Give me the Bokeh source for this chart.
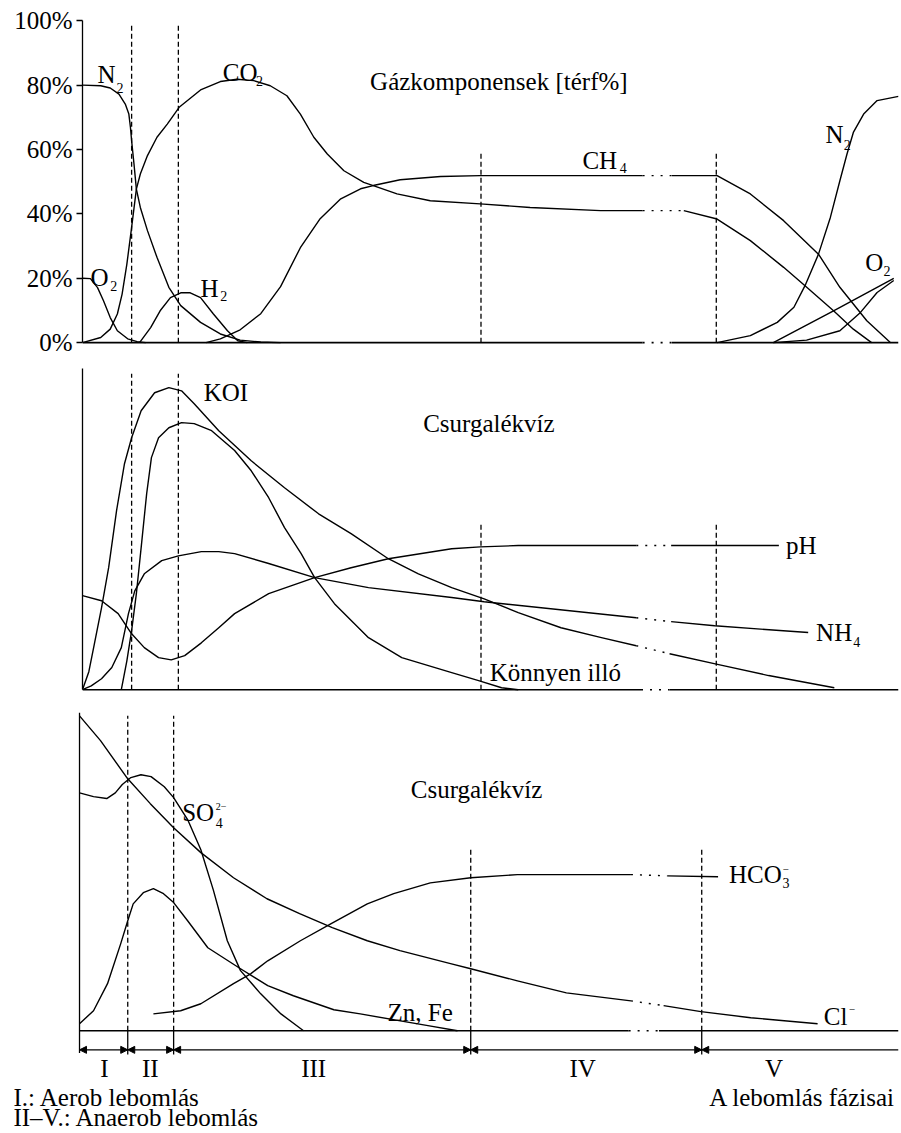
from bokeh.plotting import figure
from bokeh.layouts import column, row
from bokeh.models import FixedTicker, Arrow, NormalHead, Range1d
from bokeh.core.properties import value
from bokeh.embed import file_html
from bokeh.resources import INLINE

FONT = "Liberation Serif"

# ---------------- phases (time axis, arbitrary units) ----------------
phase_bounds = [0.0, 6.2, 12.1, 50.3, 80.0]
phase_names = ["I", "II", "III", "IV", "V"]
phase_label_t = [3.2, 9.1, 30.1, 64.7, 89.3]

# ---------------- top panel: gas composition [vol%] ----------------
gas_ticks = [0, 20, 40, 60, 80, 100]
gas_tick_labels = ["0%", "20%", "40%", "60%", "80%", "100%"]

n2_in_t = [0, 2.3, 3.5, 4.6, 5.4, 5.85, 6.05, 6.2, 6.5, 6.8, 7.3, 8.2, 9.4, 10.9, 12.4, 14.9, 17.4, 19.9, 22.5, 25.0]
n2_in = [80, 79.8, 79.1, 77.2, 74.1, 71.0, 66.9, 62.7, 55.5, 47.7, 42.0, 34.8, 26.5, 17.2, 11.5, 6.3, 2.7, 0.8, 0.2, 0]

o2_in_t = [0, 1.0, 1.9, 2.65, 3.5, 4.4, 5.7, 6.9, 8.0]
o2_in = [20, 19.9, 17.1, 13.0, 7.8, 3.7, 1.2, 0.3, 0]

h2_t = [7.2, 8.6, 9.8, 11.1, 12.4, 13.6, 14.9, 16.5, 18.3, 19.6, 20.8]
h2 = [0, 4.7, 9.9, 14.0, 15.5, 15.5, 14.0, 9.0, 3.7, 0.6, 0]

co2_t = [0, 2.3, 3.5, 4.4, 5.0, 5.6, 6.2, 6.8, 7.3, 8.2, 9.4, 10.7, 12.2, 14.9, 17.4, 19.5, 21.6, 23.7,
         25.8, 27.5, 29.2, 30.9, 33.0, 35.5, 36.7, 39.7, 43.9, 50.2, 56.5, 65.4, 70.7, None,
         75.9, 80.1, 84.3, 88.5, 91.2, 94.8, 97.3, 99.6]
co2 = [0, 1.6, 4.2, 8.9, 15.1, 24.4, 35.8, 47.7, 52.4, 58.1, 63.8, 67.9, 73.1, 78.5, 81.1, 81.8, 81.4, 79.8,
       76.7, 71.0, 63.8, 58.6, 53.4, 49.8, 48.8, 46.2, 44.1, 43.1, 42.0, 41.0, 41.0, None,
       41.0, 38.4, 31.7, 23.4, 17.7, 9.9, 4.2, 0]

ch4_t = [15.6, 17.4, 19.9, 22.5, 25.0, 27.5, 30.0, 32.6, 35.1, 36.7, 40.1, 45.2, 50.2, 65.4, 70.7, None,
         74.4, 80.1, 84.3, 88.5, 92.9, 95.6, 99.0, 102.0]
ch4 = [0, 1.2, 4.0, 9.0, 17.4, 29.5, 38.5, 44.7, 47.8, 48.8, 50.6, 51.6, 51.9, 51.9, 51.9, None,
       51.9, 51.9, 46.2, 37.9, 27.5, 17.2, 6.8, 0]

n2_out_t = [80.1, 84.3, 87.7, 89.8, 91.2, 92.9, 94.4, 95.6, 96.5, 97.3, 98.6, 100.3, 103.0]
n2_out = [0, 2.2, 6.3, 11.0, 17.7, 27.5, 38.9, 50.3, 58.6, 65.3, 71.0, 75.2, 76.5]

o2_out_a_t = [87.2, 94.8, 102.4]
o2_out_a = [0, 9.9, 20.0]
o2_out_b_t = [87.2, 91.4, 95.6, 98.2, 100.3, 102.4]
o2_out_b = [0, 0.8, 3.7, 9.4, 15.6, 19.3]

gas_base_t = [0, 70.7, None, 74.4, 103.0]

# ---------------- middle panel: leachate (KOI, pH, NH4, volatile) ----------------
koi_t = [0, 0.8, 1.5, 2.4, 3.3, 4.3, 5.3, 6.2, 7.4, 9.1, 10.9, 12.5, 14.1, 17.2, 21.3, 25.5, 29.8, 33.9,
         38.6, 42.4, 46.6, 50.7, 55.0, 60.4, 65.5, 69.9, None, 74.1, 80.3, 86.6, 94.9]
koi = [0, 5.6, 14.3, 25.5, 38.0, 55.8, 70.4, 78.5, 86.9, 92.5, 94.1, 93.1, 89.1, 80.7, 71.3, 62.9, 54.8, 48.6,
       40.8, 36.1, 31.8, 28.3, 24.0, 19.3, 16.2, 13.7, None, 11.2, 7.8, 4.4, 0.6]

vol_t = [4.9, 5.6, 6.2, 6.8, 7.4, 8.1, 8.7, 9.6, 10.9, 12.5, 14.1, 16.3, 19.2, 21.3, 23.5, 25.5, 27.6,
         29.3, 31.8, 36.1, 40.3, 46.6, 50.0, 52.9, 55.0]
vol = [0, 9.0, 18.4, 29.9, 44.2, 61.1, 72.3, 78.5, 81.6, 83.2, 82.9, 80.7, 74.5, 68.2, 59.8, 50.5, 42.4,
       34.9, 26.8, 16.2, 10.0, 5.3, 2.8, 0.6, 0]

ph_t = [0, 2.4, 4.5, 6.2, 7.8, 9.6, 11.2, 12.9, 15.0, 17.2, 19.2, 23.5, 29.3, 33.9, 38.6, 46.6, 50.2, 55.0,
        69.9, None, 74.3, 87.9]
ph = [29.3, 27.7, 23.7, 17.4, 13.1, 10.0, 9.3, 10.6, 14.6, 19.3, 23.7, 29.9, 34.9, 38.0, 40.8, 43.9, 44.5, 44.9,
      44.9, None, 44.9, 44.9]

nh4_t = [0, 1.1, 2.4, 3.7, 4.9, 5.8, 6.6, 7.8, 10.0, 12.1, 15.0, 17.2, 19.2, 23.5, 29.3, 36.1, 46.6, 50.7,
         69.9, None, 74.3, 79.8, 91.6]
nh4 = [0, 1.2, 3.4, 6.9, 13.1, 23.7, 30.8, 36.1, 40.2, 41.7, 43.0, 43.0, 42.4, 39.3, 34.9, 31.8, 28.7, 27.4,
       22.4, None, 21.2, 19.9, 17.8]

mid_base_t = [0, 70.5, None, 74.1, 103.0]

# ---------------- bottom panel: leachate ions ----------------
cl_t = [0, 2.7, 6.2, 9.1, 12.1, 15.6, 19.8, 24.1, 28.3, 32.5, 37.0, 41.2, 47.7, 50.3, 56.3, 62.6, 70.9, None,
        75.1, 79.9, 86.3, 94.9]
cl = [99, 91.2, 79.2, 71.4, 63.8, 56.0, 48.1, 41.5, 36.8, 32.4, 28.3, 25.2, 21.1, 19.5, 15.7, 11.9, 9.4, None,
      7.9, 6.0, 4.1, 2.2]

so4_t = [0, 1.8, 3.5, 4.6, 5.5, 6.6, 7.9, 9.2, 10.9, 12.1, 13.9, 15.6, 17.2, 19.0, 20.7, 23.3, 25.9, 28.8]
so4 = [74.8, 73.6, 73.0, 74.8, 77.4, 79.6, 80.5, 79.9, 76.7, 73.3, 66.4, 56.9, 44.3, 28.3, 18.9, 11.6, 5.3, 0]

znfe_t = [0, 1.8, 3.6, 5.3, 6.2, 6.9, 8.2, 9.5, 10.8, 12.1, 13.9, 16.5, 20.7, 24.2, 27.5, 32.7, 36.1, 44.8, 48.6]
znfe = [2.2, 6.3, 14.8, 27.4, 34.6, 39.9, 43.4, 44.7, 43.1, 40.3, 34.6, 26.1, 19.5, 14.2, 11.0, 6.6, 5.3, 1.6, 0]

hco3_t = [9.5, 13.0, 15.6, 19.8, 22.0, 24.2, 28.4, 32.3, 37.0, 40.4, 45.1, 50.3, 56.3, 70.9, None, 75.6, 82.1]
hco3 = [5.3, 6.3, 8.5, 14.8, 17.9, 22.0, 28.3, 33.6, 39.9, 43.1, 46.5, 48.1, 49.1, 49.1, None, 48.7, 48.4]

bot_base_t = [0, 70.6, None, 74.5, 105.3]

LW = 1.4


def curve(p, ts, ys, width=LW):
    segs, ct, cy = [], [], []
    for t, y in zip(ts, ys):
        if t is None:
            segs.append((ct, cy))
            ct, cy = [], []
        else:
            ct.append(t)
            cy.append(y)
    segs.append((ct, cy))
    for st, sy in segs:
        p.line(st, sy, line_color="black", line_width=width, line_join="round")
    for (at, ay), (bt, by) in zip(segs[:-1], segs[1:]):
        p.line([at[-1], bt[0]], [ay[-1], by[0]], line_color="black",
               line_width=width, line_dash="2 7")


def baseline(p, ts):
    curve(p, ts, [None if t is None else 0 for t in ts], width=1.6)


def txt(p, s, t, y, size="25px", align="left"):
    p.text(x=[t], y=[y], text=[s], text_font=value(FONT), text_font_size=size,
           text_color="black", text_align=align, text_baseline="middle")


def dashed(p, xs, tops):
    p.segment(x0=xs, y0=[0] * len(xs), x1=xs, y1=tops, line_color="black",
              line_width=1.3, line_dash="5 3")


def clean(p):
    p.outline_line_color = None
    p.grid.visible = False
    p.background_fill_color = "white"
    p.border_fill_color = "white"


def plain_axis(p, bounds):
    ax = p.yaxis[0]
    ax.ticker = FixedTicker(ticks=[])
    ax.bounds = bounds
    ax.major_tick_line_color = None
    ax.minor_tick_line_color = None
    ax.major_label_text_font_size = "0px"
    ax.axis_line_width = 1.3
    ax.axis_line_color = "black"


W = 900
BL = 82
BR = 2

# ---------------- figure 1 ----------------
p1 = figure(width=W, height=356, x_range=Range1d(0, 103.0), y_range=Range1d(-1.5, 101),
            output_backend="svg", toolbar_location=None, x_axis_location=None,
            min_border_left=BL, min_border_right=BR, min_border_top=17, min_border_bottom=9)
clean(p1)
ax = p1.yaxis[0]
ax.ticker = FixedTicker(ticks=gas_ticks)
ax.major_label_overrides = {t: l for t, l in zip(gas_ticks, gas_tick_labels)}
ax.bounds = (0, 100)
ax.major_tick_out = 6
ax.major_tick_in = 0
ax.minor_tick_line_color = None
ax.axis_line_width = 1.3
ax.major_tick_line_width = 1.3
ax.major_label_text_font = FONT
ax.major_label_text_font_size = "25px"
ax.major_label_text_color = "black"
ax.major_label_standoff = 4

baseline(p1, gas_base_t)
dashed(p1, phase_bounds[1:], [98.4, 98.4, 59.0, 59.0])
for ts, ys in [(n2_in_t, n2_in), (o2_in_t, o2_in), (h2_t, h2), (co2_t, co2), (ch4_t, ch4),
               (n2_out_t, n2_out), (o2_out_a_t, o2_out_a), (o2_out_b_t, o2_out_b)]:
    curve(p1, ts, ys)

txt(p1, "Gázkomponensek [térf%]", 36.3, 81.1)
txt(p1, "N", 1.9, 83.2); txt(p1, "2", 4.3, 79.0, "14px")
txt(p1, "CO", 17.7, 83.9); txt(p1, "2", 21.9, 81.2, "14px")
txt(p1, "O", 1.0, 20.2); txt(p1, "2", 3.5, 17.6, "14px")
txt(p1, "H", 14.9, 16.8); txt(p1, "2", 17.4, 14.4, "14px")
txt(p1, "CH", 63.1, 56.5); txt(p1, "4", 67.8, 54.3, "14px")
txt(p1, "N", 93.8, 64.6); txt(p1, "2", 96.1, 61.5, "14px")
txt(p1, "O", 98.8, 24.8); txt(p1, "2", 101.1, 22.4, "14px")

# ---------------- figure 2 ----------------
p2 = figure(width=W, height=347, x_range=Range1d(0, 103.0), y_range=Range1d(-1.5, 101),
            output_backend="svg", toolbar_location=None, x_axis_location=None,
            min_border_left=BL, min_border_right=BR, min_border_top=9, min_border_bottom=9)
clean(p2)
plain_axis(p2, (0, 100))
baseline(p2, mid_base_t)
dashed(p2, phase_bounds[1:], [98.4, 98.4, 52.0, 52.0])
for ts, ys in [(koi_t, koi), (vol_t, vol), (ph_t, ph), (nh4_t, nh4)]:
    curve(p2, ts, ys)
txt(p2, "KOI", 15.3, 92.5)
txt(p2, "Csurgalékvíz", 43.0, 82.9)
txt(p2, "pH", 88.8, 44.9)
txt(p2, "NH", 92.6, 17.8); txt(p2, "4", 97.3, 15.0, "14px")
txt(p2, "Könnyen illó", 51.4, 5.3)

# ---------------- figure 3 (frame spans the full width so the notes fit) ----------------
p3 = figure(width=W, height=430, x_range=Range1d(-10.16, 105.3), y_range=Range1d(-32.3, 101),
            output_backend="svg", toolbar_location=None, x_axis_location=None, y_axis_location=None,
            min_border_left=0, min_border_right=BR, min_border_top=6, min_border_bottom=0)
clean(p3)
p3.segment(x0=[0], y0=[-7.0], x1=[0], y1=[100], line_color="black", line_width=1.3)
baseline(p3, bot_base_t)
dashed(p3, phase_bounds[1:], [99, 99, 57.5, 57.5])
p3.segment(x0=phase_bounds[1:], y0=[0] * 4, x1=phase_bounds[1:], y1=[-7.5] * 4,
           line_color="black", line_width=1.3)
for ts, ys in [(cl_t, cl), (so4_t, so4), (znfe_t, znfe), (hco3_t, hco3)]:
    curve(p3, ts, ys)

# phase arrows
ends = phase_bounds[1:] + [105.3]
for i, (a, b) in enumerate(zip(phase_bounds, ends)):
    p3.add_layout(Arrow(x_start=a, y_start=-6.0, x_end=b, y_end=-6.0, line_width=1.3,
                        start=NormalHead(size=7, fill_color="black", line_color="black"),
                        end=(NormalHead(size=7, fill_color="black", line_color="black")
                             if i < len(phase_bounds) - 1 else None)))
for name, t in zip(phase_names, phase_label_t):
    txt(p3, name, t, -11.9, align="center")

txt(p3, "SO", 13.2, 68.6); txt(p3, "4", 17.5, 65.2, "14px"); txt(p3, "2−", 17.5, 70.6, "10px")
txt(p3, "Csurgalékvíz", 42.6, 75.8)
txt(p3, "HCO", 83.5, 49.1); txt(p3, "3", 90.4, 46.4, "14px"); txt(p3, "−", 90.4, 50.8, "11px")
txt(p3, "Cl", 95.7, 4.4); txt(p3, "−", 98.9, 6.6, "11px")
txt(p3, "Zn, Fe", 39.6, 5.7)
txt(p3, "A lebomlás fázisai", 104.9, -21.0, align="right")
txt(p3, "I.: Aerob lebomlás", -8.5, -20.9)
txt(p3, "II–V.: Anaerob lebomlás", -8.5, -27.3)

layout = column(p1, p2, row(p3), spacing=0)
open("out.html", "w").write(file_html(layout, INLINE))
